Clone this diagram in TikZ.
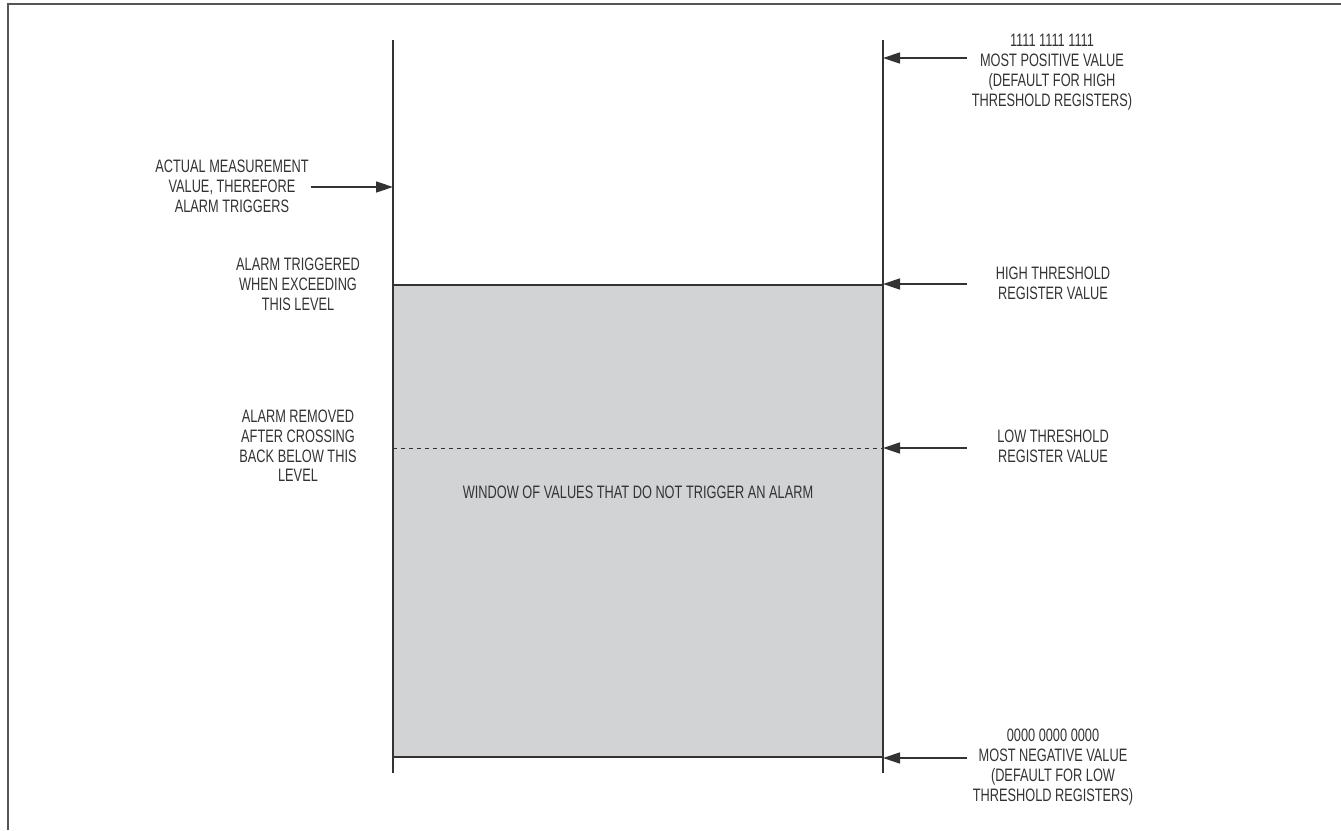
\documentclass[tikz,border=0pt]{standalone}
\usepackage{fontspec}
\setmainfont{Liberation Sans}[FakeStretch=0.71]
\usetikzlibrary{arrows.meta}
\definecolor{ink}{HTML}{333333}
\definecolor{winfill}{HTML}{D1D3D4}
\definecolor{framec}{HTML}{555555}
\begin{document}
\begin{tikzpicture}[x=1pt,y=-1pt,
  lbl/.style={align=center, font=\fontsize{18}{19.8}\selectfont, text=ink, inner sep=0pt},
  vline/.style={draw=ink, line width=1.5pt},
  edge/.style={draw=ink, line width=2pt},
  pointer/.style={draw=ink, line width=1.5pt, -{Triangle[length=17pt,width=11pt]}},
  ]
\useasboundingbox (0,0) rectangle (1341,830);
% frame
\draw[framec, line width=2pt] (8,830) -- (8,4) -- (1341,4);
% window
\fill[winfill] (393,285) rectangle (883,757);
\draw[edge] (393,285) -- (883,285);
\draw[edge] (393,757) -- (883,757);
\draw[ink, line width=0.9pt, dash pattern=on 4pt off 4pt] (393,448) -- (883,448);
% vertical lines
\coordinate (Ltop) at (393,40);
\coordinate (Lbot) at (393,773);
\coordinate (Rtop) at (883,40);
\coordinate (Rbot) at (883,773);
\draw[vline] (Ltop) -- (Lbot);
\draw[vline] (Rtop) -- (Rbot);
% arrow targets
\coordinate (meas) at (393,187);
\coordinate (pmax) at (883,58);
\coordinate (hith) at (883,284);
\coordinate (loth) at (883,448);
\coordinate (pmin) at (883,758);
% arrow starts
\coordinate (s1) at (967,58);
\coordinate (s2) at (967,284);
\coordinate (s3) at (967,448);
\coordinate (s4) at (967,758);
% labels
\node[lbl] (act) at (232,186) {ACTUAL MEASUREMENT\\VALUE, THEREFORE\\ALARM TRIGGERS};
\node[lbl] (trig) at (298,284) {ALARM TRIGGERED\\WHEN EXCEEDING\\THIS LEVEL};
\node[lbl] (rem) at (298,446) {ALARM REMOVED\\AFTER CROSSING\\BACK BELOW THIS\\LEVEL};
\node[lbl] (mpv) at (1052,72) {1111 1111 1111\\MOST POSITIVE VALUE\\(DEFAULT FOR HIGH\\THRESHOLD REGISTERS)};
\node[lbl] (hreg) at (1053,283) {HIGH THRESHOLD\\REGISTER VALUE};
\node[lbl] (lreg) at (1053,446) {LOW THRESHOLD\\REGISTER VALUE};
\node[lbl] (mnv) at (1053,767) {0000 0000 0000\\MOST NEGATIVE VALUE\\(DEFAULT FOR LOW\\THRESHOLD REGISTERS)};
\node[lbl] (win) at (638,492) {WINDOW OF VALUES THAT DO NOT TRIGGER AN ALARM};
% arrows
\draw[pointer] ([xshift=2pt]act.east |- meas) -- (meas);
\draw[pointer] (s1) -- (pmax);
\draw[pointer] (s2) -- (hith);
\draw[pointer] (s3) -- (loth);
\draw[pointer] (s4) -- (pmin);
\end{tikzpicture}
\end{document}
